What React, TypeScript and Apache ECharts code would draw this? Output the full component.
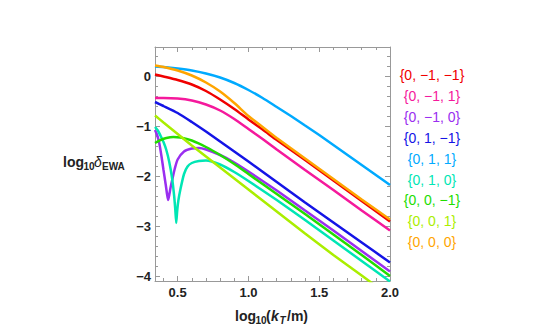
import React, { useEffect, useRef } from "react";
import * as echarts from "echarts";

const seriesNames = ["{0, \u22121, \u22121}", "{0, \u22121, 1}", "{0, \u22121, 0}", "{0, 1, \u22121}", "{0, 1, 1}", "{0, 1, 0}", "{0, 0, \u22121}", "{0, 0, 1}", "{0, 0, 0}"];
const seriesColors = ["#f00000", "#f5199c", "#9a2ef0", "#1414e6", "#00aaff", "#00e6b4", "#22dd00", "#aaee00", "#ffa500"];

const redData = [[0.34,0.04],[0.4,0.0],[0.5,-0.07],[0.6,-0.16],[0.7,-0.29],[0.8,-0.46],[0.9,-0.65],[1.0,-0.86],[1.1,-1.06],[1.2,-1.27],[1.4,-1.67],[1.6,-2.08],[1.8,-2.49],[2.0,-2.9]];
const magentaData = [[0.34,-0.43],[0.4,-0.43],[0.5,-0.44],[0.6,-0.48],[0.7,-0.56],[0.8,-0.68],[0.9,-0.85],[1.0,-1.05],[1.1,-1.25],[1.2,-1.46],[1.4,-1.87],[1.6,-2.27],[1.8,-2.68],[2.0,-3.08]];
const purpleData = [[0.34,-1.07],[0.355,-1.17],[0.37,-1.33],[0.385,-1.58],[0.4,-1.87],[0.415,-2.15],[0.425,-2.35],[0.433,-2.47],[0.44,-2.38],[0.45,-2.22],[0.463,-2.05],[0.48,-1.84],[0.5,-1.66],[0.545,-1.5],[0.6,-1.44],[0.65,-1.43],[0.7,-1.46],[0.8,-1.57],[0.9,-1.72],[1.0,-1.9],[1.2,-2.28],[1.4,-2.68],[1.6,-3.08],[1.8,-3.49],[2.0,-3.9]];
const blueData = [[0.34,-0.51],[0.4,-0.59],[0.5,-0.73],[0.6,-0.91],[0.7,-1.1],[0.8,-1.3],[0.9,-1.5],[1.0,-1.7],[1.2,-2.11],[1.4,-2.52],[1.6,-2.92],[1.8,-3.32],[2.0,-3.72]];
const lightBlueData = [[0.34,0.2],[0.4,0.19],[0.5,0.16],[0.6,0.12],[0.7,0.06],[0.8,-0.02],[0.9,-0.13],[1.0,-0.27],[1.1,-0.43],[1.2,-0.61],[1.3,-0.79],[1.4,-0.98],[1.5,-1.17],[1.6,-1.37],[1.7,-1.57],[1.8,-1.77],[1.9,-1.97],[2.0,-2.17]];
const tealData = [[0.34,-1.01],[0.36,-1.08],[0.38,-1.19],[0.4,-1.31],[0.42,-1.47],[0.44,-1.7],[0.46,-2.02],[0.475,-2.38],[0.483,-2.65],[0.49,-2.93],[0.497,-2.68],[0.505,-2.48],[0.52,-2.25],[0.545,-1.95],[0.57,-1.8],[0.6,-1.73],[0.65,-1.69],[0.7,-1.68],[0.8,-1.76],[0.9,-1.91],[1.0,-2.09],[1.2,-2.47],[1.4,-2.87],[1.6,-3.28],[1.8,-3.69],[2.0,-4.1]];
const greenData = [[0.34,-1.33],[0.38,-1.27],[0.42,-1.23],[0.47,-1.21],[0.52,-1.22],[0.6,-1.28],[0.7,-1.41],[0.8,-1.57],[0.9,-1.75],[1.0,-1.95],[1.2,-2.35],[1.4,-2.75],[1.6,-3.16],[1.8,-3.57],[2.0,-3.99]];
const yellowGreenData = [[0.34,-0.78],[0.4,-0.92],[0.5,-1.15],[0.6,-1.38],[0.7,-1.6],[0.8,-1.82],[0.9,-2.04],[1.0,-2.26],[1.2,-2.7],[1.4,-3.14],[1.6,-3.57],[1.8,-3.98],[1.9,-4.19]];
const orangeData = [[0.34,0.22],[0.4,0.19],[0.5,0.12],[0.6,0.02],[0.7,-0.12],[0.8,-0.3],[0.9,-0.53],[1.0,-0.79],[1.1,-1.01],[1.2,-1.23],[1.4,-1.64],[1.6,-2.05],[1.8,-2.46],[2.0,-2.86]];

const allData = [redData, magentaData, purpleData, blueData, lightBlueData, tealData, greenData, yellowGreenData, orangeData];

const X_MIN = 0.34;
const X_MAX = 2.0;
const Y_MIN = -4.09;
const Y_MAX = 0.59;

const FONT = "Liberation Sans, Arial, sans-serif";
const FRAME = "#999999";

export default function App() {
  const ref = useRef<HTMLDivElement>(null);
  useEffect(() => {
    if (!ref.current) return;
    const chart = echarts.init(ref.current, undefined, { renderer: "svg" });
    const axisCommon = {
      type: "value",
      axisLine: { show: true, onZero: false, lineStyle: { color: FRAME, width: 1 } },
      axisTick: { show: true, inside: true, length: 5, lineStyle: { color: FRAME } },
      minorTick: { show: true, splitNumber: 5, length: 3, lineStyle: { color: FRAME } },
      splitLine: { show: false },
      minorSplitLine: { show: false },
    };
    const fmtY = (v: number) => (v < 0 ? "\u2212" + String(Math.abs(Math.round(v))) : String(Math.round(v)));
    const option: any = {
      animation: false,
      grid: { left: 155, top: 47, right: 158, bottom: 48 },
      xAxis: [
        {
          ...axisCommon,
          position: "bottom",
          min: X_MIN,
          max: X_MAX,
          splitNumber: 3,
          axisLabel: {
            show: true, showMinLabel: false, showMaxLabel: true, margin: 5,
            fontFamily: FONT, fontSize: 13, fontWeight: "bold", color: "#222",
            formatter: (v: number) => v.toFixed(1),
          },
        },
        {
          ...axisCommon,
          position: "top",
          min: X_MIN,
          max: X_MAX,
          splitNumber: 3,
          axisLabel: { show: false },
        },
      ],
      yAxis: [
        {
          ...axisCommon,
          position: "left",
          min: Y_MIN,
          max: Y_MAX,
          splitNumber: 5,
          axisLabel: {
            show: true, showMinLabel: false, showMaxLabel: false, margin: 4,
            fontFamily: FONT, fontSize: 13, fontWeight: "bold", color: "#222",
            formatter: fmtY,
          },
        },
        {
          ...axisCommon,
          position: "right",
          min: Y_MIN,
          max: Y_MAX,
          splitNumber: 5,
          axisLabel: { show: false },
        },
      ],
      series: allData.map((d, i) => ({
        type: "line",
        name: seriesNames[i],
        data: d,
        xAxisIndex: 0,
        yAxisIndex: 0,
        showSymbol: false,
        smooth: 0.2,
        clip: true,
        lineStyle: { color: seriesColors[i], width: 2.5 },
        itemStyle: { color: seriesColors[i] },
        z: 2 + i,
      })),
      graphic: [
        ...seriesNames.map((n, i) => ({
          type: "text",
          x: 432,
          y: 75 + i * 20.9,
          style: {
            text: n, fill: seriesColors[i], font: `14px ${FONT}`,
            textAlign: "center", textVerticalAlign: "middle", align: "center", verticalAlign: "middle",
          },
        })),
        { type: "text", x: 63, y: 162, style: { text: "log", fill: "#222", font: `bold 14px ${FONT}`, verticalAlign: "middle" } },
        { type: "text", x: 83.5, y: 166, style: { text: "10", fill: "#222", font: `bold 10px ${FONT}`, verticalAlign: "middle" } },
        { type: "text", x: 94, y: 162, style: { text: "\u03b4", fill: "#222", font: `italic 14px ${FONT}`, verticalAlign: "middle" } },
        { type: "text", x: 102, y: 166, style: { text: "EWA", fill: "#222", font: `bold 10px ${FONT}`, verticalAlign: "middle" } },
        { type: "text", x: 235, y: 316, style: { text: "log", fill: "#222", font: `bold 14px ${FONT}`, verticalAlign: "middle" } },
        { type: "text", x: 255.5, y: 320, style: { text: "10", fill: "#222", font: `bold 10px ${FONT}`, verticalAlign: "middle" } },
        { type: "text", x: 266, y: 316, style: { text: "(", fill: "#222", font: `bold 14px ${FONT}`, verticalAlign: "middle" } },
        { type: "text", x: 271, y: 316, style: { text: "k", fill: "#222", font: `italic bold 14px ${FONT}`, verticalAlign: "middle" } },
        { type: "text", x: 279.5, y: 320, style: { text: "T", fill: "#222", font: `italic bold 10px ${FONT}`, verticalAlign: "middle" } },
        { type: "text", x: 287, y: 316, style: { text: "/m)", fill: "#222", font: `bold 14px ${FONT}`, verticalAlign: "middle" } },
      ],
    };
    chart.setOption(option);
    return () => chart.dispose();
  }, []);
  return (
    <div
      ref={ref}
      style={{ position: "fixed", left: 0, top: 0, width: 548, height: 329, background: "#fff" }}
    />
  );
}
